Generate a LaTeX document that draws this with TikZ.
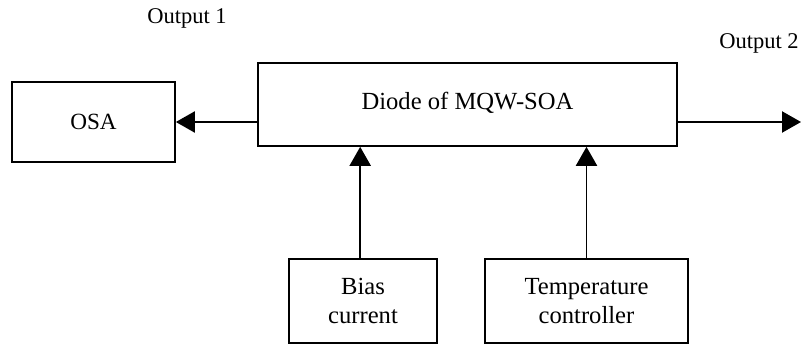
\documentclass[tikz,border=0pt]{standalone}
\usepackage{fontspec}
\setmainfont{Liberation Serif}
\usetikzlibrary{arrows.meta}

\begin{document}
\begin{tikzpicture}[x=0.025cm, y=-0.025cm,
    blk/.style={draw, line width=1.2pt, inner sep=0pt, align=center,
      font=\fontsize{17.5}{21}\selectfont},
    lbl/.style={font=\fontsize{16}{19}\selectfont},
    sig/.style={line width=1.3pt, -{Triangle[length=13.5pt, width=15pt]}}]

    \useasboundingbox (0, 0) rectangle (802, 346);

    \node[blk, minimum width=4.075cm, minimum height=2cm,
      font=\fontsize{16.5}{20}\selectfont] (osa) at (93.5, 122) {OSA};
    \node[blk, minimum width=10.475cm, minimum height=2.075cm] (soa) at (467.5, 104.5) {\raisebox{4.5pt}{Diode of MQW-SOA}};

    \node[blk, minimum width=3.7cm, minimum height=2.1cm] (bias) at (363, 301) {Bias\\current};
    \node[blk, minimum width=5.075cm, minimum height=2.1cm] (temp) at (586.5, 301) {Temperature\\controller};

    \node[lbl] (out1) at (187, 18) {Output 1};
    \node[lbl] (out2) at (759, 43) {Output 2};
    \coordinate (end2) at (801, 122);

    \path[draw, sig] (soa.west |- osa.east) to (osa.east);
    \path[draw, sig] (soa.east |- end2) to (end2);
    \path[draw, sig] ([xshift=-2pt]bias.north) to ([xshift=-2pt]bias.north |- soa.south);
    \path[draw, sig] (temp.north) to (temp.north |- soa.south);

  \end{tikzpicture}
\end{document}
